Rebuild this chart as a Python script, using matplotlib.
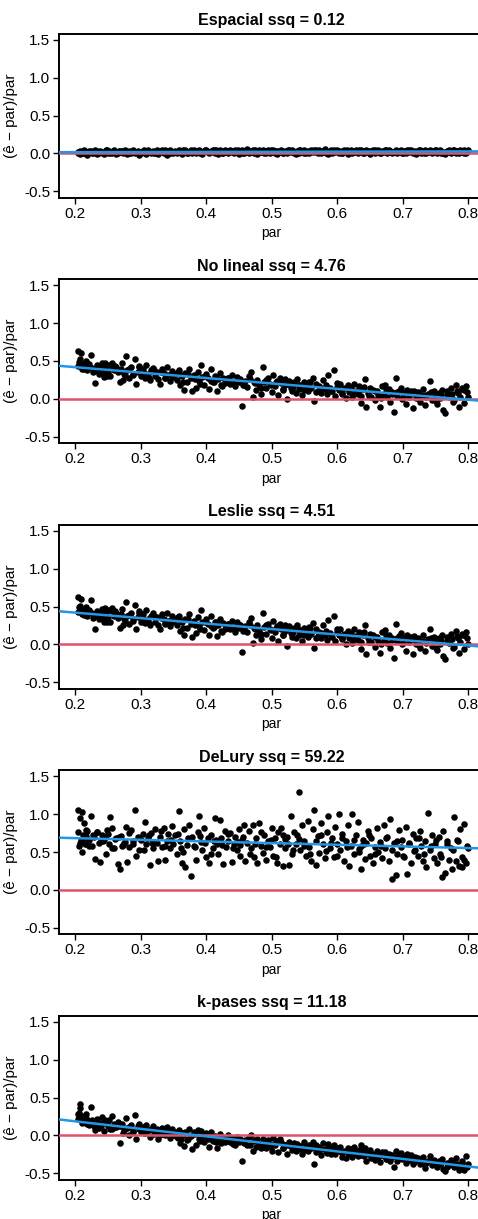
import numpy as np
import matplotlib
matplotlib.use('Agg')
import matplotlib.pyplot as plt

plt.rcParams['font.family'] = ['Liberation Sans', 'DejaVu Sans']
plt.rcParams['font.size'] = 11
plt.rcParams['axes.unicode_minus'] = False

# true parameter value of each simulation (same for every estimator)
par = [
    0.205, 0.207, 0.208, 0.210, 0.211, 0.213, 0.215, 0.218, 0.221, 0.224,
    0.226, 0.229, 0.231, 0.233, 0.236, 0.238, 0.241, 0.244, 0.247, 0.250,
    0.252, 0.254, 0.257, 0.259, 0.262, 0.265, 0.268, 0.270, 0.273, 0.276,
    0.278, 0.280, 0.283, 0.286, 0.288, 0.291, 0.293, 0.296, 0.298, 0.301,
    0.303, 0.306, 0.309, 0.311, 0.314, 0.316, 0.319, 0.322, 0.325, 0.327,
    0.329, 0.332, 0.335, 0.337, 0.340, 0.342, 0.345, 0.348, 0.350, 0.353,
    0.355, 0.358, 0.360, 0.363, 0.366, 0.368, 0.371, 0.374, 0.377, 0.379,
    0.381, 0.384, 0.387, 0.389, 0.392, 0.394, 0.397, 0.400, 0.403, 0.405,
    0.408, 0.410, 0.413, 0.416, 0.418, 0.421, 0.423, 0.426, 0.429, 0.431,
    0.434, 0.436, 0.439, 0.442, 0.444, 0.447, 0.450, 0.452, 0.455, 0.458,
    0.460, 0.463, 0.465, 0.468, 0.471, 0.473, 0.476, 0.478, 0.481, 0.484,
    0.487, 0.489, 0.492, 0.494, 0.497, 0.500, 0.502, 0.505, 0.508, 0.510,
    0.513, 0.515, 0.518, 0.521, 0.523, 0.526, 0.529, 0.531, 0.534, 0.537,
    0.539, 0.542, 0.544, 0.547, 0.550, 0.552, 0.555, 0.557, 0.560, 0.563,
    0.565, 0.568, 0.571, 0.573, 0.576, 0.579, 0.581, 0.584, 0.586, 0.589,
    0.592, 0.595, 0.597, 0.600, 0.602, 0.605, 0.608, 0.610, 0.613, 0.616,
    0.618, 0.621, 0.623, 0.626, 0.629, 0.631, 0.634, 0.637, 0.639, 0.642,
    0.644, 0.647, 0.650, 0.652, 0.655, 0.658, 0.660, 0.663, 0.665, 0.668,
    0.671, 0.673, 0.676, 0.679, 0.681, 0.684, 0.686, 0.689, 0.692, 0.694,
    0.697, 0.699, 0.702, 0.705, 0.707, 0.710, 0.713, 0.715, 0.718, 0.720,
    0.723, 0.726, 0.728, 0.731, 0.734, 0.736, 0.739, 0.741, 0.744, 0.747,
    0.749, 0.752, 0.755, 0.757, 0.760, 0.762, 0.765, 0.768, 0.770, 0.773,
    0.775, 0.778, 0.781, 0.783, 0.786, 0.788, 0.791, 0.793, 0.796, 0.798,
    0.206, 0.209, 0.212, 0.216, 0.219, 0.234, 0.246, 0.261, 0.452, 0.790,
    # second batch of runs
    0.204, 0.214, 0.222, 0.228, 0.239, 0.249, 0.256, 0.267, 0.274, 0.282,
    0.289, 0.297, 0.305, 0.313, 0.320, 0.331, 0.338, 0.347, 0.357, 0.365,
    0.373, 0.383, 0.391, 0.399, 0.407, 0.415, 0.425, 0.433, 0.441, 0.449,
    0.457, 0.467, 0.475, 0.483, 0.491, 0.499, 0.507, 0.517, 0.525, 0.533,
    0.541, 0.549, 0.559, 0.567, 0.575, 0.583, 0.591, 0.599, 0.607, 0.615,
    0.625, 0.633, 0.641, 0.649, 0.657, 0.667, 0.675, 0.683, 0.691, 0.701,
    0.709, 0.717, 0.725, 0.733, 0.743, 0.751, 0.759, 0.767, 0.777, 0.785,
    0.794, 0.799, 0.217, 0.243, 0.271, 0.318, 0.362, 0.412, 0.521, 0.637,
]

# relative error (e_hat - par)/par for each estimator
espacial = [
    0.01, 0.03, -0.01, 0.02, 0.00, 0.04, 0.01, -0.02, 0.02, 0.03,
    0.00, 0.02, 0.04, -0.01, 0.01, 0.03, 0.02, -0.01, 0.04, 0.01,
    0.03, 0.00, 0.02, 0.04, -0.01, 0.01, 0.03, 0.02, 0.00, 0.04,
    0.02, -0.01, 0.03, 0.01, 0.04, 0.00, 0.02, 0.03, -0.02, 0.01,
    0.03, 0.01, -0.01, 0.04, 0.02, 0.00, 0.03, 0.01, 0.04, -0.01,
    0.02, 0.04, 0.00, 0.03, -0.02, 0.01, 0.04, 0.02, 0.00, 0.03,
    0.01, 0.05, 0.02, -0.01, 0.03, 0.04, 0.00, 0.02, 0.05, 0.01,
    0.04, 0.00, 0.02, 0.05, 0.01, -0.01, 0.03, 0.04, 0.02, 0.00,
    0.03, 0.05, 0.01, 0.02, -0.01, 0.04, 0.02, 0.00, 0.05, 0.03,
    0.01, 0.04, 0.02, 0.00, 0.05, 0.03, -0.01, 0.02, 0.04, 0.01,
    0.03, 0.06, 0.00, 0.02, 0.04, 0.01, 0.03, -0.01, 0.05, 0.02,
    0.04, 0.01, 0.03, 0.05, 0.00, 0.02, 0.04, 0.01, -0.01, 0.03,
    0.02, 0.05, 0.01, 0.03, 0.00, 0.04, 0.02, 0.05, 0.01, -0.01,
    0.03, 0.01, 0.04, 0.02, 0.05, 0.00, 0.03, 0.01, 0.04, 0.02,
    0.05, 0.02, 0.00, 0.04, 0.01, 0.03, 0.06, 0.02, -0.01, 0.03,
    0.01, 0.04, 0.02, 0.05, 0.00, 0.03, 0.01, 0.04, 0.02, -0.01,
    0.03, 0.05, 0.01, 0.02, 0.04, 0.00, 0.03, 0.05, 0.01, 0.02,
    0.04, 0.02, -0.01, 0.03, 0.05, 0.01, 0.02, 0.04, 0.00, 0.03,
    0.02, 0.04, 0.01, 0.05, 0.03, 0.00, 0.02, 0.04, 0.01, 0.03,
    0.05, 0.01, 0.03, 0.00, 0.04, 0.02, 0.05, 0.01, 0.03, -0.01,
    0.02, 0.04, 0.01, 0.03, 0.05, 0.00, 0.02, 0.04, 0.01, 0.03,
    0.04, 0.00, 0.03, 0.05, 0.01, 0.02, -0.01, 0.03, 0.04, 0.01,
    0.02, 0.04, 0.01, 0.03, 0.00, 0.05, 0.02, 0.04, 0.01, 0.03,
    0.02, 0.01, 0.03, 0.00, 0.02, 0.03, 0.01, 0.02, 0.03, 0.02,
    0.02, 0.01, 0.03, 0.00, 0.02, 0.04, 0.01, 0.03, 0.02, 0.00,
    0.03, 0.01, 0.04, 0.02, 0.00, 0.03, 0.05, 0.01, 0.02, 0.04,
    0.01, 0.03, 0.00, 0.04, 0.02, 0.05, 0.01, 0.03, 0.02, 0.04,
    0.00, 0.03, 0.05, 0.02, 0.01, 0.04, 0.03, 0.00, 0.05, 0.02,
    0.04, 0.01, 0.03, 0.05, 0.02, 0.00, 0.04, 0.03, 0.01, 0.05,
    0.02, 0.04, 0.00, 0.03, 0.05, 0.01, 0.04, 0.02, 0.03, 0.00,
    0.04, 0.02, 0.05, 0.01, 0.03, 0.04, 0.00, 0.02, 0.05, 0.03,
    0.01, 0.04, 0.02, 0.01, 0.03, 0.02, 0.03, 0.04, 0.02, 0.03,
]

no_lineal = [
    0.63, 0.45, 0.52, 0.40, 0.46, 0.42, 0.47, 0.38, 0.44, 0.58,
    0.41, 0.37, 0.21, 0.45, 0.33, 0.40, 0.47, 0.29, 0.43, 0.36,
    0.45, 0.30, 0.48, 0.38, 0.42, 0.35, 0.22, 0.40, 0.25, 0.31,
    0.56, 0.38, 0.27, 0.42, 0.33, 0.53, 0.20, 0.36, 0.44, 0.30,
    0.40, 0.28, 0.45, 0.33, 0.25, 0.38, 0.41, 0.30, 0.36, 0.26,
    0.20, 0.40, 0.34, 0.28, 0.42, 0.31, 0.24, 0.37, 0.29, 0.33,
    0.25, 0.38, 0.18, 0.30, 0.12, 0.34, 0.22, 0.40, 0.27, 0.10,
    0.31, 0.15, 0.36, 0.24, 0.45, 0.29, 0.19, 0.33, 0.27, 0.13,
    0.39, 0.22, 0.30, 0.11, 0.26, 0.34, 0.18, 0.28, 0.21, 0.25,
    0.27, 0.20, 0.31, 0.23, 0.17, 0.29, 0.22, 0.26, -0.09, 0.19,
    0.24, 0.16, 0.30, 0.36, 0.03, 0.22, 0.12, 0.25, 0.19, 0.07,
    0.42, 0.23, 0.14, 0.27, 0.20, 0.09, 0.31, 0.17, 0.24, 0.05,
    0.27, 0.21, 0.12, 0.18, 0.00, 0.24, 0.15, 0.10, 0.22, 0.08,
    0.26, 0.13, 0.19, 0.05, 0.22, 0.16, 0.10, 0.23, 0.14, 0.28,
    -0.03, 0.20, 0.11, 0.17, 0.08, 0.25, 0.13, 0.06, 0.32, 0.15,
    0.10, 0.38, 0.04, 0.16, 0.12, 0.20, 0.07, 0.14, 0.01, 0.18,
    0.09, 0.15, 0.02, 0.20, 0.11, 0.06, 0.17, -0.05, 0.13, 0.26,
    -0.11, 0.08, 0.14, 0.03, 0.12, -0.02, 0.10, 0.05, -0.10, 0.17,
    0.06, 0.19, 0.02, 0.13, -0.04, 0.09, -0.17, 0.27, 0.04, 0.11,
    0.15, 0.00, 0.08, -0.07, 0.12, 0.03, 0.10, -0.12, 0.06, 0.01,
    0.09, -0.04, 0.05, 0.13, -0.08, 0.02, 0.07, 0.24, -0.01, 0.10,
    0.04, -0.06, 0.08, 0.01, 0.12, -0.14, -0.18, 0.05, 0.02, 0.15,
    0.07, -0.02, 0.19, 0.11, -0.10, 0.03, 0.14, -0.05, 0.17, 0.09,
    0.49, 0.60, 0.43, 0.50, 0.41, 0.39, 0.48, 0.44, 0.25, 0.13,
    0.43, 0.39, 0.46, 0.35, 0.41, 0.30, 0.44, 0.37, 0.33, 0.39,
    0.31, 0.42, 0.34, 0.28, 0.38, 0.35, 0.27, 0.32, 0.36, 0.22,
    0.33, 0.26, 0.20, 0.30, 0.24, 0.29, 0.17, 0.27, 0.22, 0.25,
    0.18, 0.26, 0.21, 0.14, 0.25, 0.19, 0.22, 0.13, 0.20, 0.16,
    0.19, 0.12, 0.22, 0.09, 0.15, 0.18, 0.11, 0.21, 0.08, 0.14,
    0.07, 0.12, 0.16, 0.04, 0.10, 0.01, 0.13, 0.06, 0.09, 0.03,
    0.07, 0.11, 0.00, 0.05, 0.09, -0.03, 0.06, 0.10, -0.04, 0.08,
    0.12, 0.02, 0.43, 0.36, 0.47, 0.37, 0.31, 0.23, 0.26, 0.04,
]

leslie = [
    0.63, 0.45, 0.51, 0.40, 0.46, 0.42, 0.47, 0.38, 0.44, 0.58,
    0.41, 0.37, 0.21, 0.44, 0.33, 0.40, 0.47, 0.29, 0.43, 0.36,
    0.45, 0.30, 0.48, 0.37, 0.42, 0.35, 0.22, 0.40, 0.25, 0.31,
    0.56, 0.38, 0.27, 0.42, 0.33, 0.52, 0.20, 0.36, 0.44, 0.30,
    0.40, 0.28, 0.45, 0.33, 0.25, 0.38, 0.41, 0.30, 0.36, 0.26,
    0.20, 0.40, 0.34, 0.28, 0.42, 0.31, 0.24, 0.37, 0.29, 0.33,
    0.25, 0.38, 0.18, 0.30, 0.12, 0.34, 0.22, 0.40, 0.27, 0.10,
    0.31, 0.15, 0.36, 0.24, 0.45, 0.29, 0.19, 0.33, 0.27, 0.13,
    0.38, 0.22, 0.30, 0.11, 0.26, 0.34, 0.18, 0.28, 0.21, 0.25,
    0.27, 0.20, 0.31, 0.23, 0.17, 0.29, 0.22, 0.26, -0.10, 0.19,
    0.24, 0.16, 0.30, 0.35, 0.02, 0.22, 0.12, 0.25, 0.19, 0.07,
    0.41, 0.23, 0.14, 0.27, 0.20, 0.09, 0.31, 0.17, 0.24, 0.05,
    0.27, 0.21, 0.12, 0.18, -0.02, 0.24, 0.15, 0.10, 0.22, 0.08,
    0.26, 0.13, 0.19, 0.05, 0.22, 0.16, 0.10, 0.23, 0.14, 0.28,
    -0.05, 0.20, 0.11, 0.17, 0.08, 0.25, 0.13, 0.06, 0.32, 0.15,
    0.10, 0.37, 0.04, 0.16, 0.12, 0.20, 0.07, 0.14, 0.00, 0.18,
    0.09, 0.15, 0.02, 0.20, 0.11, 0.06, 0.17, -0.06, 0.13, 0.25,
    -0.12, 0.08, 0.14, 0.03, 0.12, -0.03, 0.10, 0.05, -0.11, 0.17,
    0.06, 0.19, 0.02, 0.13, -0.05, 0.09, -0.18, 0.27, 0.04, 0.11,
    0.15, 0.00, 0.08, -0.08, 0.12, 0.03, 0.10, -0.13, 0.06, 0.01,
    0.09, -0.05, 0.05, 0.13, -0.09, 0.02, 0.07, 0.21, -0.02, 0.10,
    0.04, -0.07, 0.08, 0.01, 0.12, -0.15, -0.19, 0.05, 0.02, 0.14,
    0.07, -0.03, 0.18, 0.11, -0.11, 0.03, 0.14, -0.06, 0.16, 0.09,
    0.49, 0.60, 0.43, 0.50, 0.41, 0.39, 0.48, 0.44, 0.25, 0.12,
    0.43, 0.39, 0.46, 0.35, 0.41, 0.30, 0.44, 0.37, 0.33, 0.39,
    0.31, 0.42, 0.34, 0.28, 0.38, 0.35, 0.27, 0.32, 0.36, 0.22,
    0.33, 0.26, 0.20, 0.30, 0.24, 0.29, 0.17, 0.27, 0.22, 0.25,
    0.18, 0.26, 0.21, 0.14, 0.25, 0.19, 0.22, 0.13, 0.20, 0.16,
    0.19, 0.12, 0.22, 0.09, 0.15, 0.18, 0.11, 0.21, 0.08, 0.14,
    0.07, 0.12, 0.16, 0.03, 0.10, 0.00, 0.13, 0.06, 0.09, 0.02,
    0.07, 0.11, -0.01, 0.05, 0.09, -0.04, 0.06, 0.10, -0.05, 0.08,
    0.12, 0.01, 0.43, 0.36, 0.47, 0.37, 0.31, 0.23, 0.26, 0.03,
]

delury = [
    1.05, 0.62, 0.95, 0.50, 1.03, 0.88, 0.60, 0.78, 0.66, 0.97,
    0.58, 0.70, 0.41, 0.76, 0.62, 0.37, 0.72, 0.66, 0.48, 0.74,
    0.60, 0.96, 0.82, 0.55, 0.68, 0.34, 0.27, 0.71, 0.59, 0.63,
    0.83, 0.37, 0.57, 0.79, 0.64, 1.05, 0.45, 0.70, 0.52, 0.66,
    0.74, 0.89, 0.60, 0.68, 0.33, 0.75, 0.55, 0.80, 0.62, 0.38,
    0.70, 0.57, 0.82, 0.40, 0.65, 0.74, 0.55, 0.84, 0.61, 0.72,
    0.48, 1.04, 0.65, 0.36, 0.80, 0.30, 0.59, 0.85, 0.18, 0.70,
    0.58, 0.40, 0.76, 0.97, 0.63, 0.52, 0.81, 0.44, 0.69, 0.36,
    0.72, 0.55, 0.95, 0.61, 0.47, 0.92, 0.68, 0.34, 0.78, 0.57,
    0.64, 0.75, 0.37, 0.60, 0.70, 0.52, 0.80, 0.45, 0.66, 0.86,
    0.38, 0.62, 0.78, 0.55, 0.85, 0.44, 0.69, 0.35, 0.88, 0.58,
    0.49, 0.73, 0.40, 0.65, 0.56, 0.81, 0.45, 0.68, 0.35, 0.76,
    0.61, 0.82, 0.31, 0.55, 0.70, 0.33, 0.97, 0.48, 0.77, 0.60,
    0.72, 1.29, 0.52, 0.86, 0.64, 0.45, 0.91, 0.57, 0.38, 0.80,
    1.05, 0.33, 0.71, 0.49, 0.88, 0.61, 0.42, 0.76, 0.97, 0.55,
    0.68, 0.44, 0.83, 0.60, 1.00, 0.52, 0.74, 0.38, 0.65, 0.86,
    0.31, 0.58, 1.00, 0.47, 0.72, 0.89, 0.54, 0.28, 0.66, 0.41,
    0.62, 0.78, 0.45, 0.68, 0.36, 0.56, 0.82, 0.50, 0.63, 0.42,
    0.86, 0.55, 0.70, 0.38, 0.93, 0.15, 0.62, 0.20, 0.48, 0.79,
    0.57, 0.66, 0.44, 0.83, 0.21, 0.60, 0.35, 0.74, 0.52, 0.69,
    0.45, 0.78, 0.58, 0.38, 0.65, 0.30, 1.01, 0.52, 0.72, 0.42,
    0.61, 0.35, 0.70, 0.48, 0.17, 0.78, 0.22, 0.64, 0.40, 0.55,
    0.28, 0.96, 0.38, 0.66, 0.32, 0.80, 0.44, 0.87, 0.35, 0.58,
    0.58, 0.66, 0.72, 0.79, 0.61, 0.77, 0.70, 0.67, 0.59, 0.30,
    0.76, 0.68, 0.58, 0.73, 0.64, 0.79, 0.55, 0.70, 0.62, 0.75,
    0.60, 0.69, 0.52, 0.72, 0.63, 0.78, 0.58, 0.66, 0.74, 0.50,
    0.68, 0.57, 0.71, 0.62, 0.47, 0.66, 0.59, 0.74, 0.55, 0.63,
    0.70, 0.48, 0.61, 0.77, 0.57, 0.66, 0.43, 0.72, 0.60, 0.52,
    0.67, 0.58, 0.48, 0.64, 0.73, 0.51, 0.62, 0.45, 0.69, 0.57,
    0.66, 0.50, 0.61, 0.73, 0.47, 0.58, 0.68, 0.53, 0.64, 0.45,
    0.62, 0.51, 0.69, 0.47, 0.58, 0.66, 0.43, 0.60, 0.52, 0.64,
    0.40, 0.55, 0.71, 0.65, 0.58, 0.62, 0.55, 0.64, 0.67, 0.58,
]

k_pases = [
    0.22, 0.42, 0.36, 0.16, 0.25, 0.18, 0.22, 0.15, 0.19, 0.38,
    0.20, 0.12, 0.07, 0.22, 0.10, 0.17, 0.24, 0.06, 0.19, 0.13,
    0.21, 0.08, 0.26, 0.15, 0.11, 0.18, -0.10, 0.13, 0.03, 0.09,
    0.23, 0.10, 0.01, 0.14, 0.06, 0.27, -0.04, 0.12, 0.15, 0.05,
    0.11, 0.03, 0.14, 0.07, -0.02, 0.09, 0.12, 0.04, 0.08, -0.05,
    0.00, 0.10, 0.06, 0.02, 0.11, 0.04, -0.03, 0.08, 0.01, 0.05,
    -0.02, 0.07, -0.10, 0.03, -0.14, 0.05, -0.06, 0.08, -0.01, -0.18,
    0.04, -0.13, 0.07, -0.05, 0.06, -0.02, -0.09, 0.03, -0.04, -0.15,
    0.05, -0.07, -0.01, -0.16, -0.03, 0.02, -0.10, -0.04, -0.08, -0.05,
    0.00, -0.09, -0.03, -0.07, -0.12, -0.02, -0.08, -0.05, -0.33, -0.10,
    -0.06, -0.13, -0.02, 0.00, -0.20, -0.07, -0.15, -0.05, -0.10, -0.17,
    -0.04, -0.08, -0.16, -0.06, -0.11, -0.20, -0.03, -0.13, -0.07, -0.22,
    -0.05, -0.09, -0.17, -0.12, -0.24, -0.08, -0.14, -0.19, -0.10, -0.21,
    -0.11, -0.18, -0.14, -0.25, -0.09, -0.15, -0.20, -0.12, -0.17, -0.08,
    -0.37, -0.12, -0.21, -0.15, -0.26, -0.10, -0.18, -0.23, -0.11, -0.16,
    -0.19, -0.13, -0.25, -0.17, -0.21, -0.15, -0.28, -0.20, -0.30, -0.16,
    -0.24, -0.18, -0.29, -0.15, -0.22, -0.27, -0.19, -0.13, -0.21, -0.16,
    -0.34, -0.23, -0.19, -0.30, -0.25, -0.32, -0.21, -0.28, -0.35, -0.22,
    -0.27, -0.22, -0.31, -0.24, -0.33, -0.26, -0.41, -0.20, -0.29, -0.25,
    -0.23, -0.31, -0.27, -0.36, -0.25, -0.30, -0.26, -0.38, -0.29, -0.32,
    -0.30, -0.38, -0.34, -0.28, -0.43, -0.36, -0.33, -0.27, -0.39, -0.32,
    -0.35, -0.41, -0.33, -0.38, -0.31, -0.44, -0.47, -0.36, -0.39, -0.32,
    -0.34, -0.41, -0.30, -0.38, -0.45, -0.39, -0.33, -0.46, -0.27, -0.42,
    0.30, 0.24, 0.20, 0.28, 0.17, 0.14, 0.21, 0.11, -0.06, -0.36,
    0.28, 0.20, 0.14, 0.18, 0.12, 0.16, 0.09, 0.13, 0.07, 0.11,
    0.05, 0.09, 0.03, 0.07, 0.02, 0.06, 0.00, 0.04, -0.03, 0.01,
    -0.05, 0.02, -0.07, -0.01, -0.04, -0.09, -0.02, -0.06, -0.11, -0.05,
    -0.08, -0.12, -0.06, -0.14, -0.10, -0.15, -0.09, -0.17, -0.12, -0.16,
    -0.14, -0.19, -0.16, -0.22, -0.18, -0.21, -0.24, -0.19, -0.23, -0.20,
    -0.25, -0.21, -0.27, -0.24, -0.29, -0.26, -0.31, -0.28, -0.33, -0.30,
    -0.32, -0.35, -0.31, -0.37, -0.34, -0.39, -0.36, -0.41, -0.38, -0.40,
    -0.43, -0.37, 0.23, 0.17, 0.15, 0.08, -0.04, -0.03, -0.13, -0.26,
]

methods = ['Espacial', 'No lineal', 'Leslie', 'DeLury', 'k-pases']
ssq = [0.12, 4.76, 4.51, 59.22, 11.18]
errors = [espacial, no_lineal, leslie, delury, k_pases]

W, H = 478, 1219
fig = plt.figure(figsize=(W / 100, H / 100), dpi=100)

x = np.array(par)
xlim = (0.176, 0.824)
ax_w = 484 - 59.3
for i, (name, s, err) in enumerate(zip(methods, ssq, errors)):
    top = 33.5 + i * 245.5
    ax = fig.add_axes([59.3 / W, 1 - (top + 164) / H, ax_w / W, 164 / H])
    y = np.array(err)
    ax.scatter(x, y, s=22, c='black', linewidths=0, zorder=2)
    ax.axhline(0, color='#DF536B', lw=1.8, zorder=3)
    # least-squares line of error against par
    b, a = np.polyfit(x, y, 1)
    xx = np.array(xlim)
    ax.plot(xx, a + b * xx, color='#2297E6', lw=1.8, zorder=4)

    ax.set_xlim(*xlim)
    ax.set_ylim(-0.58, 1.58)
    ax.set_xticks([0.2, 0.3, 0.4, 0.5, 0.6, 0.7, 0.8])
    ax.set_yticks([-0.5, 0.0, 0.5, 1.0, 1.5])
    ax.set_xticklabels(['0.2', '0.3', '0.4', '0.5', '0.6', '0.7', '0.8'])
    ax.set_yticklabels(['-0.5', '0.0', '0.5', '1.0', '1.5'])
    ax.tick_params(direction='out', length=4.5, width=1.0, labelsize=11, pad=2)
    for sp in ax.spines.values():
        sp.set_linewidth(1.4)
    ax.set_title(f'{name} ssq = {s:.2f}', fontsize=11.5, fontweight='bold', pad=6)
    ax.set_xlabel('par', fontsize=10, labelpad=4)
    ax.set_ylabel('(ê − par)/par', fontsize=11)
    ax.yaxis.set_label_coords((18 - 59.3) / ax_w, 0.5)

fig.savefig('out.png', dpi=100)
